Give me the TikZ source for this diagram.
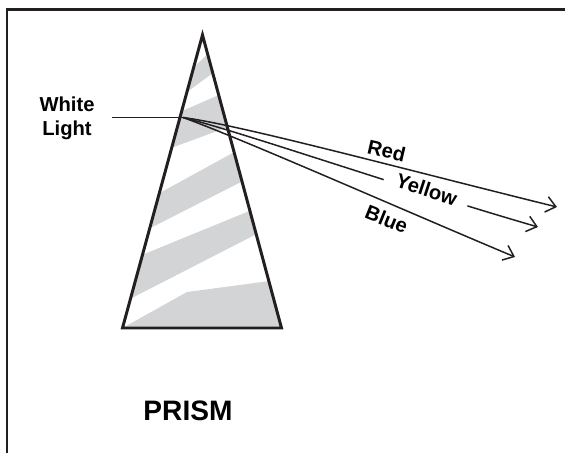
\documentclass[tikz,border=0pt]{standalone}
\usepackage{fontspec}
\setmainfont{Liberation Sans}
\usetikzlibrary{arrows.meta,calc}
\definecolor{bandgray}{RGB}{211,212,214}
\definecolor{inkblack}{RGB}{35,31,32}
\tikzset{
    beam/.style={draw=inkblack, line width=0.85pt},
    ray/.style={beam, -{Straight Barb[length=5.5pt,width=9pt]}},
    band/.style={fill=bandgray},
    lbl/.style={font=\bfseries\fontsize{11.5}{13.5}\selectfont, inner sep=1pt}}

\begin{document}
\begin{tikzpicture}[x=0.02cm, y=-0.02cm]
    \useasboundingbox (0,0) rectangle (565,453);

    % frame: top and left side only
    \draw[inkblack, line width=1.4pt] (6.8,453) -- (6.8,9.5) -- (565,9.5);

    \coordinate (A) at (202.5,35);
    \coordinate (L) at (122.5,328);
    \coordinate (R) at (281.5,328);

    % light bands inside the prism
    \foreach \a/\b/\c/\d in {.11/.065/.13/.195, .26/.205/.315/.385, .54/.40/.50/.66, .75/.60/.68/.90}
        \fill[band] ($(A)!\a!(L)$) -- ($(A)!\b!(R)$) -- ($(A)!\c!(R)$) -- ($(A)!\d!(L)$) -- cycle;
    \fill[band] (L) -- (187,292) -- ($(A)!.84!(R)$) -- (R) -- cycle;

    \draw[inkblack, line width=1.7pt] (A) -- (L) -- (R) -- cycle;

    \node[lbl, align=center] (wl) at (67,118) {White\\Light};
    \coordinate (src) at (112,117.5);
    \coordinate (in) at (183,117.5);
    \draw[beam] (src) -- (in);

    \coordinate (tipR) at (557,207);
    \coordinate (tipY) at (538,227);
    \coordinate (tipB) at (515,257);

    % yellow first, its label knocks a gap out of the line
    \draw[ray] (in) .. controls (240,131.5) and (400,187) .. (tipY);
    \node[lbl, fill=white, inner xsep=7pt, inner ysep=0pt, rotate=-18] (ylbl) at (426.7,189.3) {Yellow};
    \draw[ray] (in) .. controls (240,125) and (400,168.2) .. (tipR);
    \draw[ray] (in) .. controls (240,138) and (400,208.7) .. (tipB);
    \node[lbl, inner sep=0pt, rotate=-13] (rlbl) at (386.7,150.7) {Red};
    \node[lbl, inner sep=0pt, rotate=-22] (blbl) at (386.7,219.3) {Blue};

    \node[font=\bfseries\fontsize{16}{19}\selectfont, anchor=base] (prism) at (188,420) {PRISM};
\end{tikzpicture}
\end{document}
